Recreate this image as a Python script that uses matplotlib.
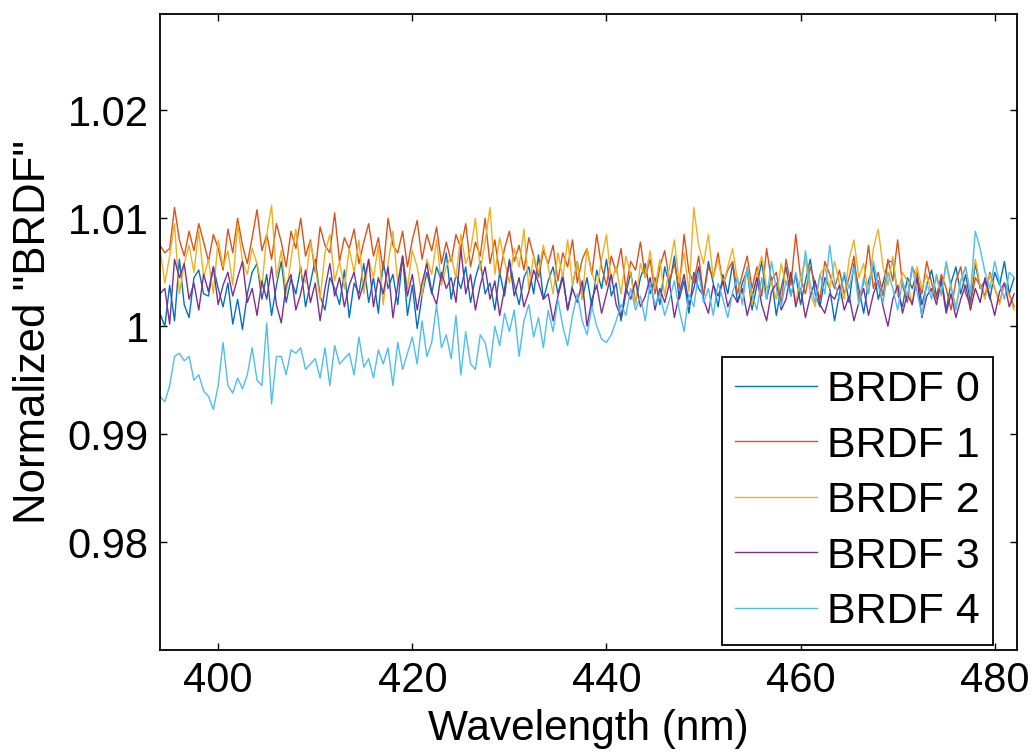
import numpy as np
import matplotlib
matplotlib.use('Agg')
import matplotlib.pyplot as plt

plt.rcParams['font.family'] = ['Liberation Sans', 'DejaVu Sans']

# wavelength grid (nm), 0.5 nm steps
wavelength = np.arange(394.0, 482.01, 0.5)

# deviations from 1, in units of 1e-4
brdf0_dev = [12, 0, 38, 5, 62, 20, 8, 45, 52, 30, 28, 55, 35, 18, 40, 2, 25, -3, 30, 50,
             58, 25, 48, 10, 38, 60, 22, 44, 30, 55, 18, 40, 62, 28, 15, 45, 35, 20, 52, 8,
             40, 30, 58, 22, 45, 12, 60, 35, 48, 20, 65, 10, 38, -2, 28, 50, 30, 55, 42, 68,
             25, 48, 35, 55, 22, 45, 60, 30, 40, 15, 50, 28, 62, 38, 20, 45, 55, 30, 66, 25,
             42, 55, 30, 48, 15, 38, 60, 25, 45, 18, 52, 35, 62, 28, 40, 5, 30, 50, 22, 45,
             58, 30, 45, 20, 55, 38, 65, 25, 42, 12, 50, 35, 28, 60, 40, 18, 48, 30, 58, 22,
             40, 52, 15, 38, 60, 25, 45, 10, 35, 55, 28, 48, 20, 42, 62, 30, 18, 45, 35, 5,
             30, 48, 22, 58, 35, 12, 42, 55, 25, 40, 60, 60, 30, 18, 45, 35, 50, 20, 38, 52,
             28, 45, 15, 40, 55, 30, 48, 22, 58, 35, 42, 25, 50, 38, 60, 30, 45]
brdf1_dev = [75, 68, 72, 110, 80, 65, 88, 70, 95, 78, 60, 85, 72, 52, 90, 68, 100, 75, 58, 82,
             108, 70, 85, 62, 95, 78, 55, 88, 72, 100, 65, 80, 50, 92, 75, 68, 105, 60, 82, 72,
             90, 58, 78, 95, 65, 82, 52, 100, 75, 68, 88, 55, 80, 98, 62, 85, 70, 92, 58, 78,
             60, 85, 72, 95, 55, 78, 65, 100, 58, 80, 48, 72, 88, 60, 75, 52, 82, 65, 45, 70,
             58, 75, 42, 68, 55, 80, 40, 62, 72, 48, 85, 55, 38, 65, 50, 72, 35, 60, 52, 78,
             45, 62, 30, 55, 70, 42, 58, 35, 85, 50, 40, 65, 28, 55, 45, 68, 38, 52, 60, 30,
             48, 65, 35, 55, 28, 72, 42, 50, 20, 62, 38, 85, 45, 30, 55, 40, 25, 60, 48, 35,
             52, 30, 45, 65, 25, 40, 75, 35, 50, 28, 62, 42, 80, 38, 22, 55, 45, 30, 60, 40,
             25, 48, 35, 15, 42, 55, 30, 20, 45, 38, 28, 50, 35, 22, 40, 30, 18]
brdf2_dev = [72, 40, 65, 95, 30, 58, 75, 50, 88, 45, 62, 30, 80, 55, 70, 38, 95, 60, 48, 72,
             58, 35, 85, 112, 45, 70, 30, 62, 90, 50, 40, 78, 55, 25, 68, 85, 42, 60, 35, 72,
             50, 80, 30, 62, 45, 75, 20, 58, 88, 40, 65, 35, 70, 55, 28, 62, 48, 80, 38, 55,
             65, 45, 85, 58, 70, 100, 52, 78, 110, 48, 82, 60, 40, 72, 55, 90, 35, 65, 50, 75,
             55, 30, 68, 45, 80, 38, 60, 25, 72, 50, 35, 62, 85, 40, 55, 30, 65, 48, 20, 58,
             45, 70, 35, 62, 28, 55, 80, 40, 68, 32, 110, 75, 58, 85, 45, 62, 38, 55, 72, 42,
             30, 55, 20, 48, 65, 35, 42, 25, 58, 38, 50, 22, 45, 62, 30, 18, 48, 55, 35, 60,
             40, 25, 62, 80, 45, 58, 30, 72, 90, 55, 38, 65, 28, 50, 42, 20, 55, 35, 48, 30,
             45, 28, 58, 35, 18, 42, 55, 30, 62, 38, 25, 48, 35, 20, 40, 28, 15]
brdf3_dev = [30, 35, 2, 62, 45, 58, 25, 40, 15, 48, 32, 55, 20, 38, 50, 28, 45, 60, 22, 35,
             10, 42, 25, 55, 20, 3, 38, 48, 15, 30, 52, 22, 40, 5, 35, 58, 28, 45, 18, 38,
             50, 25, 40, 62, 18, 45, 30, 55, 8, 38, 65, 28, 48, 15, 40, 58, 32, 20, 50, 35,
             45, 22, 72, 30, 48, 15, 38, 55, 25, 42, 10, 35, 60, 28, 45, 18, 32, 52, 40, 25,
             30, 5, 28, 45, 15, 35, 22, 42, 0, 25, 38, 12, 30, 48, 20, 8, 35, 25, 42, 18,
             28, 45, 15, 35, 22, 40, 8, 30, 48, 20, 35, 55, 25, 12, 38, 28, 42, 18, 30, 22,
             35, 10, 28, 45, 20, 5, 32, 40, 15, 25, 50, 18, 35, 8, 28, 42, 20, 12, 30, 25,
             38, 15, 28, 5, 22, 35, 10, 30, 42, 18, 0, 25, 38, 12, 30, 20, 45, 8, 28, 35,
             20, 42, 12, 30, 8, 25, 38, 15, 35, 22, 45, 28, 10, 32, 40, 18, 30]
brdf4_dev = [-65, -70, -55, -28, -25, -32, -28, -50, -45, -60, -65, -77, -55, -15, -55, -62, -48, -58, -45, -20,
             -50, -55, 3, -72, -28, -28, -45, -22, -25, -20, -40, -35, -30, -48, -20, -55, -18, -35, -30, -25,
             -45, -10, -38, -30, -48, -22, -35, -20, -55, -15, -40, -25, -10, -35, 5, -28, -15, 20, -20, -8,
             -30, 10, -45, -5, -35, -40, -8, -15, -38, 0, -18, 12, -5, 15, -28, 5, 20, -10, 8, -20,
             15, -5, 25, 0, -18, 10, 30, 5, -8, 18, 0, -12, -15, -8, 5, 20, 10, 35, 15, 28,
             5, 40, 20, 30, 10, 25, 42, 15, -5, 30, 18, 50, 22, 35, 10, 40, 25, 8, 32, 45,
             20, 55, 30, 15, 45, 25, 60, 35, 18, 42, 28, 50, 30, 70, 38, 22, 48, 30, 75, 40,
             25, 50, 35, 55, 20, 45, 30, 60, 38, 22, 50, 35, 15, 42, 28, 55, 32, 10, 40, 25,
             48, 30, 60, 38, 15, 42, 55, 30, 88, 72, 50, 35, 60, 40, 25, 50, 45]

series = [brdf0_dev, brdf1_dev, brdf2_dev, brdf3_dev, brdf4_dev]
labels = ['BRDF 0', 'BRDF 1', 'BRDF 2', 'BRDF 3', 'BRDF 4']
colors = ['#0072BD', '#D95319', '#EDB120', '#7E2F8E', '#4DBEEE']

xticks = [400, 420, 440, 460, 480]
yticks = [0.98, 0.99, 1.0, 1.01, 1.02]
ytick_labels = ['0.98', '0.99', '1', '1.01', '1.02']

fig = plt.figure(figsize=(10.32, 7.52), dpi=100)
ax = fig.add_axes([0.155, 0.1356, 0.8305, 0.8454])

for dev, lab, col in zip(series, labels, colors):
    ax.plot(wavelength, 1 + np.array(dev) * 1e-4, color=col, lw=1.0, label=lab)

ax.set_xlim(394.0, 482.3)
ax.set_ylim(0.97, 1.0289)
ax.set_xticks(xticks)
ax.set_yticks(yticks)
ax.set_yticklabels(ytick_labels)
ax.tick_params(direction='in', top=True, right=True, length=5, width=1,
               labelsize=30, pad=8)
for sp in ax.spines.values():
    sp.set_linewidth(1.3)

ax.set_xlabel('Wavelength (nm)', fontsize=30.5, labelpad=6)
ax.set_ylabel('Normalized "BRDF"', fontsize=31.5, labelpad=10)

leg = ax.legend(loc='lower right', bbox_to_anchor=(0.972, 0.008), fontsize=31,
                frameon=True, fancybox=False, edgecolor='black', framealpha=1,
                handlelength=1.9, handletextpad=0.25, labelspacing=0.36,
                borderpad=0.3, borderaxespad=0)
leg.get_frame().set_linewidth(1.3)

fig.savefig('out.png', dpi=100)
